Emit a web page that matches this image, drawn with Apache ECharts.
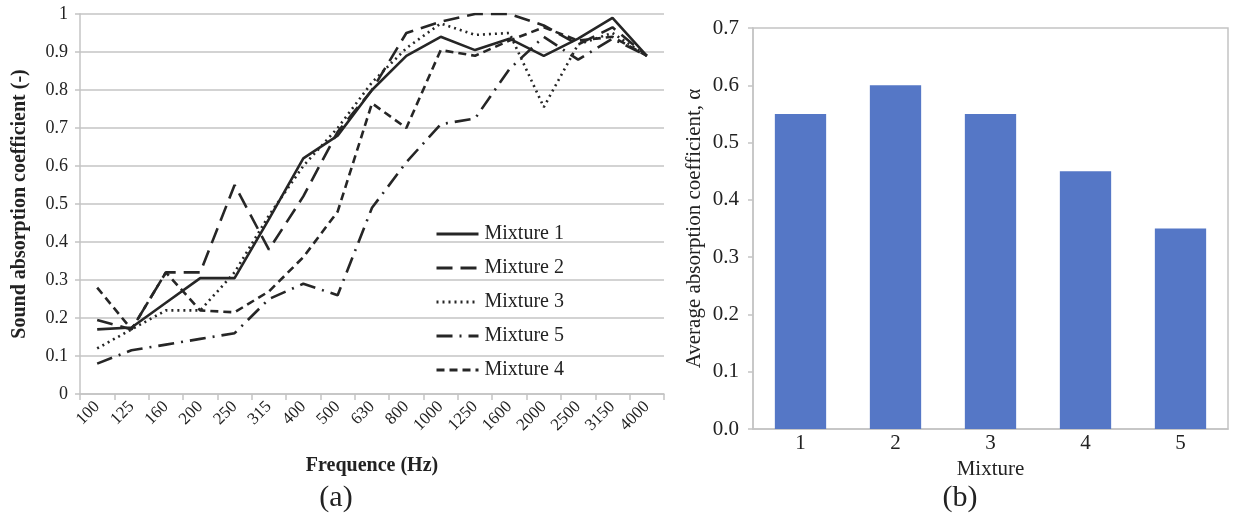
<!DOCTYPE html>
<html>
<head>
<meta charset="utf-8">
<script src="https://cdn.jsdelivr.net/npm/echarts@6/dist/echarts.min.js"></script>
<style>
  html, body { margin: 0; padding: 0; background: #fff; }
  #chart { width: 1233px; height: 518px; }
</style>
</head>
<body>
<div id="chart"></div>
<script>
// Third-octave band centre frequencies (Hz)
const frequencies = ['100', '125', '160', '200', '250', '315', '400', '500', '630',
  '800', '1000', '1250', '1600', '2000', '2500', '3150', '4000'];

// Sound absorption coefficient per band for each mixture
const mixture1 = [0.17, 0.175, 0.24, 0.305, 0.305, 0.46, 0.62, 0.68, 0.80, 0.89, 0.94, 0.905, 0.935, 0.89, 0.935, 0.99, 0.89];
const mixture2 = [0.195, 0.17, 0.32, 0.32, 0.55, 0.38, 0.52, 0.69, 0.80, 0.95, 0.98, 1.0, 1.0, 0.97, 0.92, 0.965, 0.89];
const mixture3 = [0.12, 0.17, 0.22, 0.22, 0.32, 0.47, 0.60, 0.70, 0.82, 0.91, 0.975, 0.945, 0.95, 0.755, 0.92, 0.95, 0.89];
const mixture4 = [0.28, 0.17, 0.32, 0.22, 0.215, 0.27, 0.36, 0.48, 0.765, 0.70, 0.905, 0.89, 0.93, 0.965, 0.93, 0.94, 0.89];
const mixture5 = [0.08, 0.115, 0.13, 0.145, 0.16, 0.25, 0.29, 0.26, 0.49, 0.61, 0.71, 0.725, 0.855, 0.94, 0.88, 0.935, 0.89];

// Average absorption coefficient per mixture
const mixtureIds = ['1', '2', '3', '4', '5'];
const averageAlpha = [0.55, 0.60, 0.55, 0.45, 0.35];

const serif = '"Liberation Serif", "Times New Roman", serif';
const ink = '#222222';
const gridGray = '#c4c4c4';

function lineSeries(name, data, dash) {
  return {
    name: name,
    type: 'line',
    xAxisIndex: 0,
    yAxisIndex: 0,
    data: data,
    symbol: 'none',
    smooth: false,
    lineStyle: { color: '#262626', width: 2.6, type: dash, cap: 'butt' },
    itemStyle: { color: '#262626' },
    z: 3
  };
}

const chart = echarts.init(document.getElementById('chart'), null, { renderer: 'canvas' });

chart.setOption({
  backgroundColor: '#ffffff',
  animation: false,
  textStyle: { fontFamily: serif, color: ink },
  title: [
    { text: '(a)', left: 331, top: 478, textAlign: 'center',
      textStyle: { fontFamily: serif, fontSize: 30, fontWeight: 'normal', color: ink } },
    { text: '(b)', left: 955, top: 478, textAlign: 'center',
      textStyle: { fontFamily: serif, fontSize: 30, fontWeight: 'normal', color: ink } }
  ],
  legend: {
    data: ['Mixture 1', 'Mixture 2', 'Mixture 3', 'Mixture 5', 'Mixture 4'],
    orient: 'vertical',
    left: 430,
    top: 219,
    itemWidth: 42,
    itemHeight: 16,
    itemGap: 14,
    itemStyle: { opacity: 0 },
    lineStyle: { width: 3, color: '#262626' },
    textStyle: { fontFamily: serif, fontSize: 20, color: ink, padding: [0, 0, 0, 1] },
    selectedMode: false
  },
  grid: [
    { left: 80, top: 14, width: 584, height: 380 },
    { left: 753, top: 28, width: 475, height: 401, show: true,
      borderColor: gridGray, borderWidth: 1.5, backgroundColor: 'transparent' }
  ],
  xAxis: [
    {
      gridIndex: 0,
      type: 'category',
      data: frequencies,
      boundaryGap: true,
      axisLine: { lineStyle: { color: gridGray, width: 1.5 } },
      axisTick: { show: true, interval: 0, length: 6, lineStyle: { color: gridGray, width: 1.5 } },
      axisLabel: { interval: 0, rotate: 45, margin: 10, fontFamily: serif, fontSize: 17, color: ink },
      name: 'Frequence (Hz)',
      nameLocation: 'middle',
      nameGap: 62,
      nameTextStyle: { fontFamily: serif, fontSize: 20, fontWeight: 'bold', color: ink }
    },
    {
      gridIndex: 1,
      type: 'category',
      data: mixtureIds,
      boundaryGap: true,
      axisLine: { lineStyle: { color: gridGray, width: 1.5 } },
      axisTick: { show: false },
      axisLabel: { margin: 4, fontFamily: serif, fontSize: 21, color: ink },
      name: 'Mixture',
      nameLocation: 'middle',
      nameGap: 22,
      nameTextStyle: { fontFamily: serif, fontSize: 21, color: ink }
    }
  ],
  yAxis: [
    {
      gridIndex: 0,
      type: 'value',
      min: 0,
      max: 1,
      interval: 0.1,
      axisLine: { show: true, lineStyle: { color: gridGray, width: 1.5 } },
      axisTick: { show: true, length: 5, lineStyle: { color: gridGray, width: 1.5 } },
      splitLine: { show: true, lineStyle: { color: gridGray, width: 1.5 } },
      axisLabel: { margin: 12, fontFamily: serif, fontSize: 18, color: ink,
        formatter: function (v) { return String(Math.round(v * 10) / 10); } },
      name: 'Sound absorption coefficient (-)',
      nameLocation: 'middle',
      nameGap: 50,
      nameTextStyle: { fontFamily: serif, fontSize: 20, fontWeight: 'bold', color: ink }
    },
    {
      gridIndex: 1,
      type: 'value',
      min: 0,
      max: 0.7,
      interval: 0.1,
      axisLine: { show: true, lineStyle: { color: gridGray, width: 1.5 } },
      axisTick: { show: true, length: 5, lineStyle: { color: gridGray, width: 1.5 } },
      splitLine: { show: false },
      axisLabel: { margin: 14, fontFamily: serif, fontSize: 21, color: ink,
        formatter: function (v) { return v.toFixed(1); } },
      name: 'Average absorption coefficient, \u03b1',
      nameLocation: 'middle',
      nameGap: 48,
      nameTextStyle: { fontFamily: serif, fontSize: 21, color: ink }
    }
  ],
  series: [
    lineSeries('Mixture 1', mixture1, 'solid'),
    lineSeries('Mixture 2', mixture2, [16, 8]),
    lineSeries('Mixture 3', mixture3, [2, 4]),
    lineSeries('Mixture 5', mixture5, [16, 7, 2, 7]),
    lineSeries('Mixture 4', mixture4, [8, 5]),
    {
      name: 'Average',
      type: 'bar',
      xAxisIndex: 1,
      yAxisIndex: 1,
      data: averageAlpha,
      barWidth: '54%',
      itemStyle: { color: '#5577c6' }
    }
  ]
});
</script>
</body>
</html>
